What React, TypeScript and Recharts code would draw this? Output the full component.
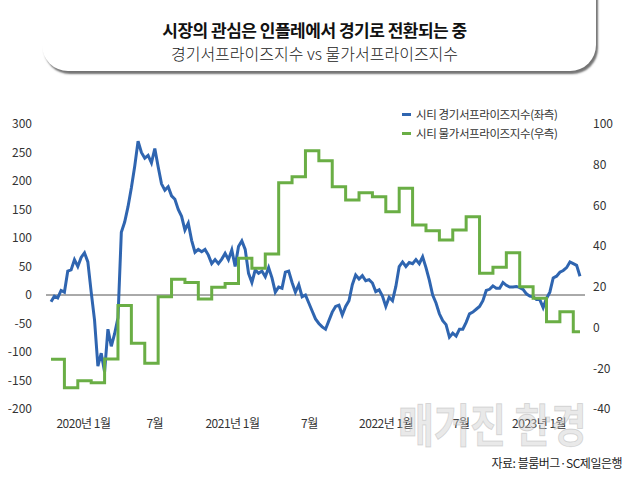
import { LineChart, Line, XAxis, YAxis, ReferenceLine } from "recharts";

// 시티 경기서프라이즈지수 (주간, 좌측)
const ECON = [
  -12, -2, -5, 8, 5, 42, 44, 62, 50, 66,
  74, 58, 5, -44, -125, -102, -135, -60, -90, -68,
  -40, 110, 128, 155, 188, 226, 270, 250, 240, 245,
  232, 257, 225, 195, 184, 190, 174, 168, 150, 138,
  114, 126, 96, 75, 80, 76, 80, 70, 55, 62,
  55, 63, 73, 62, 79, 50, 85, 95, 80, 38,
  22, 44, 38, 42, 32, 48, 30, 5, 14, 12,
  40, 42, 22, 5, 18, -3, 0, -14, -28, -42,
  -50, -56, -60, -45, -30, -20, -18, -35, -20, -10,
  18, 35, 28, 34, 25, 27, 21, 6, 9, -2,
  -20, -4, -10, 15, 50, 58, 50, 57, 55, 62,
  55, 67, 48, 26, 0, -14, -33, -45, -52, -74,
  -67, -72, -60, -60, -48, -33, -30, -25, -20, -10,
  8, 10, 16, 12, 12, 22, 17, 14, 14, 15,
  13, 10, 2, -2, -3, -8, -8, -22, -6, 5,
  30, 33, 40, 43, 48, 58, 55, 52, 33,
];

// 시티 물가서프라이즈지수 (월간, 우측)
const INFL = [
  -15.6, -29.5, -26.1, -27.1, -15.4, 10.9, -7.7, -17.5, 15.2, 23.7,
  22.2, 14.0, 19.8, 21.7, 34.0, 29.1, 36.1, 71.2, 74.1, 86.9,
  82.0, 69.2, 62.7, 66.2, 64.3, 56.9, 68.4, 50.4, 47.6, 43.0,
  47.9, 54.5, 26.7, 29.6, 36.8, 20.1, 14.4, 2.9, 7.8, -2.0,
];

const TICK_POS = [9.7, 31, 54.2, 77.2, 100.1, 122.5, 145.8];
const TICK_LABELS = ["2020년 1월", "7월", "2021년 1월", "7월", "2022년 1월", "7월", "2023년 1월"];
const LEFT_TICKS = [-200, -150, -100, -50, 0, 50, 100, 150, 200, 250, 300];
const RIGHT_TICKS = [-40, -20, 0, 20, 40, 60, 80, 100];

const BLUE = "#2f65b0";
const GREEN = "#6aae45";
const FONT = "'Noto Sans CJK KR', 'Noto Sans', sans-serif";

const data = ECON.map((v, i) => ({ i, econ: v, infl: INFL[Math.floor(i / 4)] }));

const tickStyle = { fill: "#333", fontSize: 12, fontFamily: FONT };

export default function App() {
  return (
    <div style={{ position: "absolute", left: 0, top: 0, width: 629, height: 485, background: "#fff", overflow: "hidden", fontFamily: FONT }}>
      {/* title box */}
      <div
        style={{
          position: "absolute", left: 42, top: -30, width: 554, height: 101,
          borderRadius: 26, background: "#fff", boxShadow: "2px 3px 2px rgba(0,0,0,0.55)",
        }}
      />
      <div style={{ position: "absolute", left: 0, width: 629, top: 18, textAlign: "center", fontSize: 17, fontWeight: 700, letterSpacing: -0.5, color: "#111", lineHeight: "24px" }}>
        시장의 관심은 인플레에서 경기로 전환되는 중
      </div>
      <div style={{ position: "absolute", left: 0, width: 629, top: 42, textAlign: "center", fontSize: 16, fontWeight: 300, color: "#222", lineHeight: "22px" }}>
        경기서프라이즈지수 vs 물가서프라이즈지수
      </div>

      <div style={{ position: "absolute", left: 0, top: 0 }}>
        <LineChart width={629} height={485} data={data} margin={{ top: 124, right: 4, bottom: 46, left: 6 }}>
          <XAxis
            dataKey="i" type="number" domain={[-1.5, 159.5]} ticks={TICK_POS} interval={0}
            axisLine={false} tickLine={false} tickMargin={4}
            tick={{ ...tickStyle, letterSpacing: -0.5 }}
            tickFormatter={(v: number) => TICK_LABELS[TICK_POS.indexOf(v)] ?? ""}
          />
          <YAxis
            yAxisId="left" domain={[-200, 300]} ticks={LEFT_TICKS} interval={0} width={40}
            axisLine={false} tickLine={false} tickMargin={8} tick={tickStyle}
          />
          <YAxis
            yAxisId="right" orientation="right" domain={[-40, 100]} ticks={RIGHT_TICKS} interval={0} width={40}
            axisLine={false} tickLine={false} tickMargin={2} tick={tickStyle}
          />
          <ReferenceLine yAxisId="left" y={0} stroke="#555" strokeWidth={1} />
          <Line yAxisId="left" dataKey="econ" type="linear" stroke={BLUE} strokeWidth={3} dot={false} isAnimationActive={false} />
          <Line yAxisId="right" dataKey="infl" type="stepAfter" stroke={GREEN} strokeWidth={3} dot={false} isAnimationActive={false} />
        </LineChart>
      </div>

      {/* legend */}
      <div style={{ position: "absolute", left: 402, top: 105, fontSize: 11.5, color: "#333", letterSpacing: -0.4, lineHeight: "19px" }}>
        <div style={{ display: "flex", alignItems: "center" }}>
          <span style={{ width: 9, height: 3, background: BLUE, marginRight: 5 }} />시티 경기서프라이즈지수(좌측)
        </div>
        <div style={{ display: "flex", alignItems: "center" }}>
          <span style={{ width: 9, height: 3, background: GREEN, marginRight: 5 }} />시티 물가서프라이즈지수(우측)
        </div>
      </div>

      {/* watermark */}
      <div
        style={{
          position: "absolute", left: 398, top: 394, fontSize: 46, fontWeight: 700, whiteSpace: "nowrap",
          color: "rgba(205,205,205,0.45)", WebkitTextStroke: "1px rgba(160,160,160,0.35)",
          transform: "scaleX(0.85)", transformOrigin: "left top", lineHeight: "56px", pointerEvents: "none",
        }}
      >
        매거진 한경
      </div>

      <div style={{ position: "absolute", right: 7, top: 454, fontSize: 12, color: "#222", letterSpacing: -0.5, lineHeight: "18px" }}>
        자료: 블룸버그·SC제일은행
      </div>
    </div>
  );
}
